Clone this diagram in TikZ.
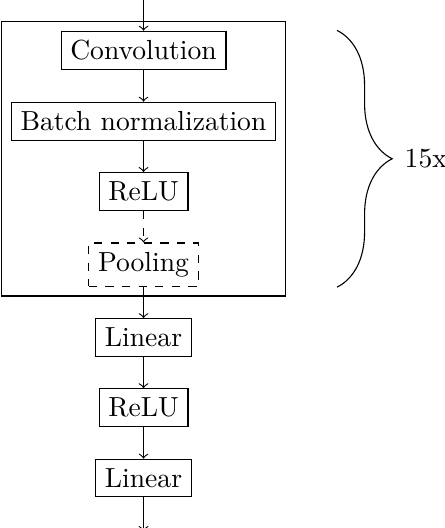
\documentclass[tikz,border=0pt]{standalone}
\usetikzlibrary{positioning, fit, decorations.pathreplacing}

\begin{document}
\begin{tikzpicture}[node distance = 4mm,
    layer/.style = {draw},
    optlayer/.style = {draw, dashed}]
  \useasboundingbox (-52pt,18.3pt) rectangle (108.9pt,-173pt);
  \node[layer] (conv) at (0,0) {Convolution};
  \node[layer, below = of conv] (bn) {Batch normalization};
  \node[layer, below = of bn] (relu) {ReLU};
  \node[optlayer, below = of relu] (pool) {Pooling};
  \node[draw, fit = (conv) (bn) (relu) (pool)] (block) {};
  \node[layer, below = of pool] (lin) {Linear};
  \node[layer, below = of lin] (relub) {ReLU};
  \node[layer, below = of relub] (linb) {Linear};
  \coordinate[above = 4.3mm of conv] (in);
  \coordinate[below = 4.3mm of linb] (out);
  \draw[->] (in) -- (conv);
  \draw[->] (conv) -- (bn);
  \draw[->] (bn) -- (relu);
  \draw[->, dashed] (relu) -- (pool);
  \draw[->] (pool) -- (lin);
  \draw[->] (lin) -- (relub);
  \draw[->] (relub) -- (linb);
  \draw[->] (linb) -- (out);
  \draw[decorate, decoration = {brace, amplitude = 20pt}]
    ([xshift = 18.5pt, yshift = -3.4pt]block.north east) --
    ([xshift = 18.5pt, yshift = 3.4pt]block.south east)
    node[midway, right = 21pt] (rep) {15x};
\end{tikzpicture}
\end{document}
